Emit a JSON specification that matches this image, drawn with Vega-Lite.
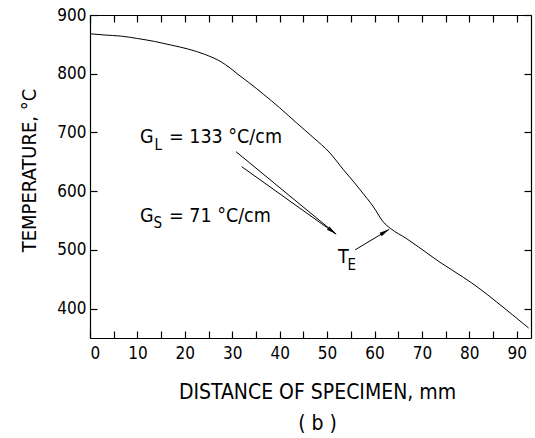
{
  "$schema": "https://vega.github.io/schema/vega-lite/v6.json",
  "width": 441,
  "height": 323,
  "autosize": {"type": "none"},
  "padding": {"left": 90, "top": 15, "right": 4, "bottom": 100},
  "background": "white",
  "config": {
    "view": {"stroke": null},
    "font": "DejaVu Sans Condensed",
    "axis": {
      "grid": false,
      "domainColor": "black",
      "domainWidth": 1.2,
      "tickColor": "black",
      "tickWidth": 1.2,
      "tickSize": -7,
      "labelFont": "DejaVu Sans Condensed",
      "labelFontSize": 17,
      "labelColor": "black",
      "titleFont": "DejaVu Sans Condensed",
      "titleFontWeight": "normal",
      "titleColor": "black"
    }
  },
  "datasets": {
    "curve": [
      {"x": 0, "y": 868}, {"x": 3, "y": 866}, {"x": 6.6, "y": 864}, {"x": 10, "y": 860},
      {"x": 13.6, "y": 855}, {"x": 17, "y": 849}, {"x": 20.7, "y": 842}, {"x": 24.2, "y": 833},
      {"x": 27.7, "y": 820}, {"x": 29.5, "y": 810}, {"x": 31.2, "y": 799}, {"x": 33.5, "y": 785},
      {"x": 36.6, "y": 765}, {"x": 40, "y": 742}, {"x": 43.6, "y": 716}, {"x": 47, "y": 692},
      {"x": 50.6, "y": 665}, {"x": 53.4, "y": 637}, {"x": 55.5, "y": 617}, {"x": 57, "y": 602},
      {"x": 59.8, "y": 573}, {"x": 61.9, "y": 547}, {"x": 63.3, "y": 537}, {"x": 66.8, "y": 519},
      {"x": 71.7, "y": 491}, {"x": 73.8, "y": 479}, {"x": 78.8, "y": 453}, {"x": 82, "y": 435},
      {"x": 85.8, "y": 411}, {"x": 92.5, "y": 367}
    ],
    "leaders": [
      {"seg": "L", "x": 30.8, "y": 667.2}, {"seg": "L", "x": 51.9, "y": 527},
      {"seg": "S", "x": 32.0, "y": 641.7}, {"seg": "S", "x": 51.9, "y": 527},
      {"seg": "E", "x": 55.9, "y": 500}, {"seg": "E", "x": 63.1, "y": 535}
    ],
    "headG": [{"x": 51.9, "y": 527}],
    "headE": [{"x": 63.1, "y": 535}],
    "mainText": [
      {"x": 10.54, "y": 682, "text": "G"},
      {"x": 16.66, "y": 682, "text": "= 133 °C/cm"},
      {"x": 10.54, "y": 547.5, "text": "G"},
      {"x": 16.66, "y": 547.5, "text": "= 71 °C/cm"},
      {"x": 52.3, "y": 477.7, "text": "T"}
    ],
    "subText": [
      {"x": 13.6, "y": 670, "text": "L"},
      {"x": 13.4, "y": 537, "text": "S"},
      {"x": 54.3, "y": 465.8, "text": "E"}
    ]
  },
  "resolve": {"axis": {"x": "independent", "y": "independent"}},
  "layer": [
    {
      "data": {"name": "curve"},
      "mark": {"type": "line", "color": "black", "strokeWidth": 1, "interpolate": "monotone"},
      "encoding": {
        "x": {"field": "x", "type": "quantitative", "scale": {"domain": [0, 93], "nice": false, "zero": false},
          "axis": {"orient": "bottom", "values": [0,5,10,15,20,25,30,35,40,45,50,55,60,65,70,75,80,85,90],
            "labelExpr": "datum.value % 10 === 0 ? datum.label : ''", "labelPadding": 14,
            "title": ["DISTANCE OF SPECIMEN, mm", "( b )"], "titleFontSize": 21, "titleLineHeight": 31,
            "titleX": 227, "titleY": 60, "titleBaseline": "alphabetic", "titleAlign": "center"}},
        "y": {"field": "y", "type": "quantitative", "scale": {"domain": [350, 900], "nice": false, "zero": false},
          "axis": {"orient": "left", "values": [400,500,600,700,800,900], "labelPadding": 11,
            "title": "TEMPERATURE, °C", "titleFontSize": 20, "titleX": -55, "titleY": 155,
            "titleBaseline": "alphabetic", "titleAlign": "center", "titleAngle": -90}}
      }
    },
    {
      "data": {"name": "leaders"},
      "mark": {"type": "line", "color": "black", "strokeWidth": 1},
      "encoding": {
        "x": {"field": "x", "type": "quantitative", "scale": {"domain": [0, 93], "nice": false, "zero": false},
          "axis": {"orient": "top", "values": [0,5,10,15,20,25,30,35,40,45,50,55,60,65,70,75,80,85,90], "labels": false, "title": null}},
        "y": {"field": "y", "type": "quantitative", "scale": {"domain": [350, 900], "nice": false, "zero": false},
          "axis": {"orient": "right", "values": [400,500,600,700,800,900], "labels": false, "title": null}},
        "detail": {"field": "seg"}
      }
    },
    {
      "data": {"name": "headG"},
      "mark": {"type": "point", "shape": "M0,0L0.2,1L-0.2,1Z", "size": 400, "angle": 127, "filled": true, "color": "black", "opacity": 1},
      "encoding": {
        "x": {"field": "x", "type": "quantitative", "scale": {"domain": [0, 93], "nice": false, "zero": false}, "axis": null},
        "y": {"field": "y", "type": "quantitative", "scale": {"domain": [350, 900], "nice": false, "zero": false}, "axis": null}
      }
    },
    {
      "data": {"name": "headE"},
      "mark": {"type": "point", "shape": "M0,0L0.2,1L-0.2,1Z", "size": 400, "angle": 59, "filled": true, "color": "black", "opacity": 1},
      "encoding": {
        "x": {"field": "x", "type": "quantitative", "scale": {"domain": [0, 93], "nice": false, "zero": false}, "axis": null},
        "y": {"field": "y", "type": "quantitative", "scale": {"domain": [350, 900], "nice": false, "zero": false}, "axis": null}
      }
    },
    {
      "data": {"name": "mainText"},
      "mark": {"type": "text", "align": "left", "baseline": "alphabetic", "fontSize": 19.5, "font": "DejaVu Sans Condensed", "color": "black"},
      "encoding": {
        "x": {"field": "x", "type": "quantitative", "scale": {"domain": [0, 93], "nice": false, "zero": false}, "axis": null},
        "y": {"field": "y", "type": "quantitative", "scale": {"domain": [350, 900], "nice": false, "zero": false}, "axis": null},
        "text": {"field": "text"}
      }
    },
    {
      "data": {"name": "subText"},
      "mark": {"type": "text", "align": "left", "baseline": "alphabetic", "fontSize": 15, "font": "DejaVu Sans Condensed", "color": "black"},
      "encoding": {
        "x": {"field": "x", "type": "quantitative", "scale": {"domain": [0, 93], "nice": false, "zero": false}, "axis": null},
        "y": {"field": "y", "type": "quantitative", "scale": {"domain": [350, 900], "nice": false, "zero": false}, "axis": null},
        "text": {"field": "text"}
      }
    }
  ]
}
